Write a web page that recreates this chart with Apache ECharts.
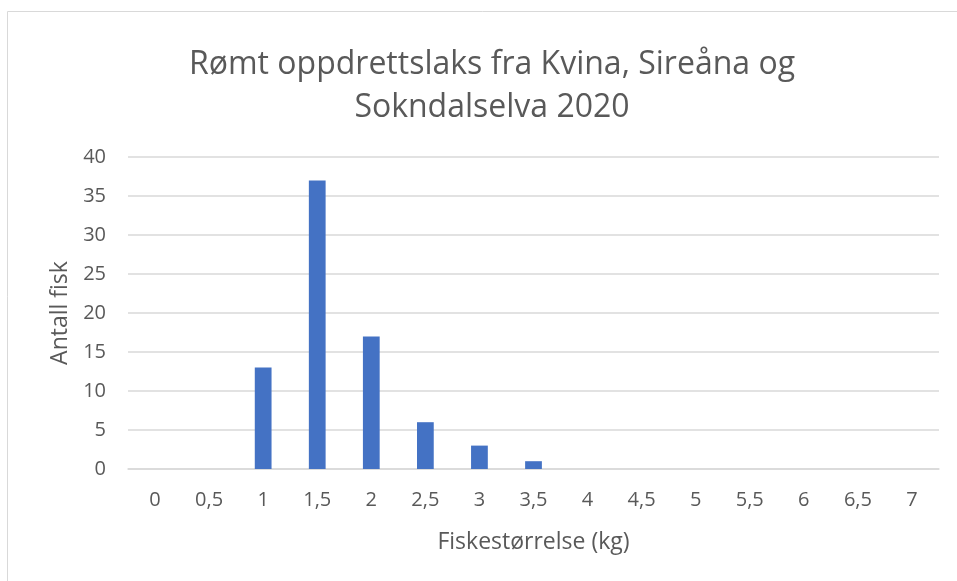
<!DOCTYPE html>
<html>
<head>
<meta charset="utf-8">
<script src="https://cdn.jsdelivr.net/npm/echarts@6/dist/echarts.min.js"></script>
<style>
  html, body { margin: 0; padding: 0; background: #fff; }
  #main { width: 957px; height: 581px; }
</style>
</head>
<body>
<div id="main"></div>
<script>
// fiskestørrelse (kg) og antall fisk
var categories = ['0', '0,5', '1', '1,5', '2', '2,5', '3', '3,5', '4', '4,5', '5', '5,5', '6', '6,5', '7'];
var antallFisk = [0, 0, 13, 37, 17, 6, 3, 1, 0, 0, 0, 0, 0, 0, 0];
var yTicks = [0, 5, 10, 15, 20, 25, 30, 35, 40];

var chart = echarts.init(document.getElementById('main'));
var font = 'Open Sans';
var textColor = '#595959';

var option = {
    animation: false,
    textStyle: { fontFamily: font },
    title: {
        text: 'Rømt oppdrettslaks fra Kvina, Sireåna og\nSokndalselva 2020',
        left: 487,
        top: 38,
        textAlign: 'center',
        textStyle: {
            fontFamily: font,
            fontSize: 32,
            fontWeight: 'normal',
            color: textColor,
            lineHeight: 43
        }
    },
    graphic: [{
        type: 'rect',
        shape: { x: 7.5, y: 11.5, width: 1000, height: 700 },
        style: { fill: 'none', stroke: '#d9d9d9', lineWidth: 1 },
        silent: true
    }],
    grid: {
        left: 128,
        right: 18,
        top: 157,
        bottom: 112
    },
    xAxis: {
        type: 'category',
        data: categories,
        name: 'Fiskestørrelse (kg)',
        nameLocation: 'middle',
        nameGap: 62,
        nameTextStyle: { fontSize: 23, color: textColor, fontFamily: font },
        axisLine: { show: true, lineStyle: { color: '#d9d9d9', width: 1.5 } },
        axisTick: { show: false },
        axisLabel: { fontSize: 20, color: textColor, margin: 21, fontFamily: font }
    },
    yAxis: {
        type: 'value',
        min: yTicks[0],
        max: yTicks[yTicks.length - 1],
        interval: 5,
        name: 'Antall fisk',
        nameLocation: 'middle',
        nameGap: 56,
        nameRotate: 90,
        nameTextStyle: { fontSize: 23, color: textColor, fontFamily: font },
        axisLine: { show: false },
        axisTick: { show: false },
        axisLabel: { fontSize: 20, color: textColor, margin: 22, fontFamily: font },
        splitLine: { lineStyle: { color: '#d9d9d9', width: 1.5 } }
    },
    series: [{
        type: 'bar',
        data: antallFisk,
        barWidth: '31%',
        itemStyle: { color: '#4472c4' }
    }]
};

chart.setOption(option);
</script>
</body>
</html>
